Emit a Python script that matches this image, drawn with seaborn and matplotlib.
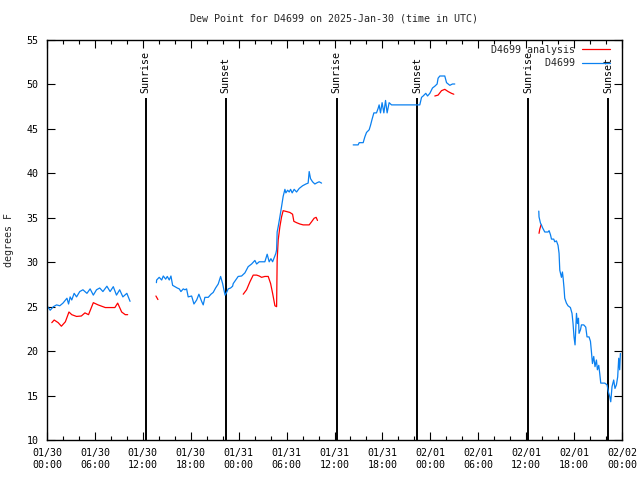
import pandas as pd
import matplotlib
matplotlib.use("Agg")
import matplotlib.pyplot as plt
import matplotlib.dates as mdates
import seaborn as sns

start = pd.Timestamp("2025-01-30 00:00")

# observed dew point D4699 (hours since 01/30 00:00 UTC, degrees F), one list per gap-free stretch
obs_a_hr = [0.0, 0.4, 0.8, 1.2, 1.6, 2.0, 2.5, 2.7, 2.9, 3.1, 3.4, 3.7, 4.1, 4.5, 5.0, 5.4, 5.8, 6.2,
            6.6, 7.0, 7.5, 7.9, 8.3, 8.7, 9.1, 9.5, 10.0, 10.4]
obs_a_val = [25.1, 24.6, 25.0, 25.2, 25.1, 25.4, 25.95, 25.3, 26.1, 25.75, 26.5, 26.1, 26.7, 26.9, 26.5,
             27.0, 26.3, 26.9, 27.1, 26.7, 27.3, 26.7, 27.25, 26.3, 26.9, 26.1, 26.5, 25.6]

obs_b_hr = [13.70, 13.73, 14.05, 14.36, 14.56, 14.86, 15.06, 15.31, 15.52, 15.73, 16.02, 16.31, 16.56,
            16.77, 17.06, 17.27, 17.48, 17.68, 18.11, 18.40, 18.74, 19.02, 19.36, 19.56, 19.77, 20.19,
            20.53, 20.81, 21.11, 21.44, 21.74, 21.99, 22.15, 22.30, 22.49, 22.69, 22.99, 23.24, 23.32,
            23.94, 24.37, 24.78, 25.19, 25.62, 26.03, 26.25, 26.57, 27.28, 27.57, 27.82, 28.04, 28.25,
            28.66, 28.75, 28.82, 28.95, 29.16, 29.37, 29.57, 29.79, 29.91, 30.13, 30.33, 30.50, 30.70,
            30.95, 31.25, 31.58, 32.00, 32.42, 32.70, 32.83, 33.00, 33.25, 33.54, 33.83, 34.08, 34.38]
obs_b_val = [27.7, 28.0, 28.3, 28.0, 28.45, 28.1, 28.4, 28.0, 28.45, 27.4, 27.25, 27.1, 27.0,
             26.7, 27.0, 26.9, 27.0, 26.1, 26.2, 25.3, 25.75, 26.4, 25.6, 25.2, 26.05, 26.05,
             26.4, 26.6, 27.1, 27.55, 28.4, 27.6, 26.9, 26.3, 26.6, 27.0, 27.1, 27.3, 27.6,
             28.4, 28.45, 28.8, 29.5, 29.8, 30.2, 29.8, 30.05, 30.05, 30.9, 30.05, 30.4, 30.05,
             31.0, 31.4, 33.4, 34.0, 35.1, 36.25, 37.4, 38.2, 37.8, 38.1, 37.9, 38.2, 37.8,
             38.2, 37.9, 38.3, 38.6, 38.8, 38.9, 40.2, 39.4, 39.05, 38.8, 38.95, 39.05, 38.9]

obs_c_hr = [38.34, 38.96, 39.09, 39.59, 39.80, 40.01, 40.34, 40.51, 40.71, 40.93, 41.26, 41.46, 41.59,
            41.76, 41.96, 42.18, 42.39, 42.59, 42.84, 43.14, 46.68, 46.90, 47.10, 47.43, 47.65, 47.94,
            48.27, 48.56, 48.85, 48.97, 49.19, 49.81, 50.03, 50.44, 50.77, 51.06]
obs_c_val = [43.2, 43.2, 43.45, 43.45, 44.1, 44.6, 44.9, 45.4, 46.1, 46.8, 46.8, 47.3, 47.7,
             46.8, 47.95, 46.8, 48.2, 46.8, 47.95, 47.7, 47.7, 48.55, 48.7, 49.0, 48.7, 49.0,
             49.6, 49.8, 50.05, 50.7, 50.95, 50.95, 50.2, 49.9, 50.05, 50.05]

obs_d_hr = [61.58, 61.61, 61.79, 61.91, 62.04, 62.33, 62.74, 62.87, 63.04, 63.17, 63.45, 63.58, 63.79,
            63.99, 64.12, 64.21, 64.42, 64.54, 64.62, 64.74, 64.83, 65.04, 65.24, 65.54, 65.74, 65.87,
            65.99, 66.12, 66.30, 66.42, 66.55, 66.62, 66.80, 66.92, 67.21, 67.46, 67.62, 67.87, 68.05,
            68.17, 68.30, 68.46, 68.62, 68.80, 68.92, 69.09, 69.21, 69.34, 69.84, 70.13, 70.30, 70.46,
            70.59, 70.75, 70.96, 71.12, 71.30, 71.46, 71.59, 71.71, 71.80]
obs_d_val = [35.75, 35.1, 34.4, 34.2, 33.9, 33.4, 33.4, 33.55, 33.1, 32.6, 32.6, 32.3, 32.4,
             31.9, 31.0, 29.1, 28.3, 28.9, 28.3, 27.1, 25.95, 25.4, 25.1, 24.9, 24.25, 23.1,
             21.6, 20.7, 24.25, 23.1, 23.7, 22.0, 22.4, 22.95, 22.95, 22.7, 21.6, 21.6, 21.1,
             19.95, 18.6, 19.4, 18.25, 19.0, 17.9, 18.4, 17.5, 16.4, 16.4, 16.2, 15.4, 14.9,
             14.3, 16.0, 16.75, 15.8, 16.2, 17.1, 19.2, 17.9, 19.75]

# analysis dew point
ana_a_hr = [0.6, 0.9, 1.4, 1.8, 2.3, 2.75, 3.1, 3.7, 4.3, 4.75, 5.2, 5.8, 6.4, 7.3, 8.5, 8.85, 9.35, 9.8, 10.1]
ana_a_val = [23.2, 23.5, 23.2, 22.8, 23.3, 24.4, 24.1, 23.9, 23.95, 24.3, 24.1, 25.45, 25.2, 24.9, 24.9,
             25.4, 24.4, 24.1, 24.1]

ana_b_hr = [13.64, 13.89]
ana_b_val = [26.2, 25.8]

ana_c_hr = [24.57, 24.99, 25.41, 25.82, 26.25, 26.57, 26.87, 27.28, 27.70, 28.00, 28.25, 28.54, 28.75,
            28.82, 28.95, 29.16, 29.37, 29.57, 30.00, 30.41, 30.75, 30.91, 31.25, 31.66, 32.08, 32.83,
            33.13, 33.45, 33.70, 33.87]
ana_c_val = [26.4, 26.9, 27.8, 28.55, 28.55, 28.45, 28.3, 28.4, 28.4, 27.6, 26.5, 25.1, 25.0,
             30.25, 32.5, 34.0, 35.1, 35.8, 35.7, 35.6, 35.4, 34.6, 34.45, 34.3, 34.2, 34.2,
             34.55, 34.95, 35.05, 34.7]

ana_d_hr = [48.56, 48.97, 49.40, 49.81, 50.23, 50.65, 50.94]
ana_d_val = [48.7, 48.8, 49.3, 49.45, 49.2, 49.0, 48.9]

ana_e_hr = [61.61, 61.70, 61.86]
ana_e_val = [33.25, 33.7, 34.2]

sun_hr = [12.35, 22.37, 36.26, 46.35, 60.24, 70.25]
sun_label = ["Sunrise", "Sunset", "Sunrise", "Sunset", "Sunrise", "Sunset"]

segments = [
    ("D4699 analysis", ana_a_hr, ana_a_val),
    ("D4699 analysis", ana_b_hr, ana_b_val),
    ("D4699 analysis", ana_c_hr, ana_c_val),
    ("D4699 analysis", ana_d_hr, ana_d_val),
    ("D4699 analysis", ana_e_hr, ana_e_val),
    ("D4699", obs_a_hr, obs_a_val),
    ("D4699", obs_b_hr, obs_b_val),
    ("D4699", obs_c_hr, obs_c_val),
    ("D4699", obs_d_hr, obs_d_val),
]

rows = []
for seg_id, (name, hrs, vals) in enumerate(segments):
    for h, v in zip(hrs, vals):
        rows.append({"time": start + pd.Timedelta(hours=h), "dewpt": v, "series": name, "seg": seg_id})
df = pd.DataFrame(rows)

sns.set_theme(style="ticks")
plt.rcParams["font.family"] = ["DejaVu Sans Mono"]
plt.rcParams["font.size"] = 7.2

fig = plt.figure(figsize=(6.4, 4.8), dpi=100)
ax = fig.add_axes([47 / 640, 40 / 480, 575 / 640, 400 / 480])

sns.lineplot(data=df, x="time", y="dewpt", hue="series", units="seg", estimator=None,
             hue_order=["D4699 analysis", "D4699"],
             palette={"D4699 analysis": "#ff0000", "D4699": "#0a80f0"},
             linewidth=0.9, ax=ax)

for h, lab in zip(sun_hr, sun_label):
    t = start + pd.Timedelta(hours=h)
    ax.vlines(t, 10, 48.5, color="black", linewidth=1.4, zorder=1)
    ax.text(t, 49.0, lab, rotation=90, ha="center", va="bottom", fontsize=7.2, color="black")

ax.set_xlim(start, start + pd.Timedelta(hours=72))
ax.set_ylim(10, 55)
ax.set_yticks(range(10, 56, 5))
ax.xaxis.set_major_locator(mdates.HourLocator(byhour=[0, 6, 12, 18]))
ax.xaxis.set_minor_locator(mdates.HourLocator(byhour=range(0, 24, 2)))
ax.xaxis.set_major_formatter(mdates.DateFormatter("%m/%d\n%H:%M"))
ax.tick_params(which="both", direction="in", top=True, right=True, colors="black", labelsize=7.2)
ax.tick_params(which="major", length=6, width=0.8, pad=6)
ax.tick_params(which="minor", length=3, width=0.8)
for s in ax.spines.values():
    s.set_color("black")
    s.set_linewidth(1.0)

ax.set_xlabel("")
ax.set_ylabel("degrees F", fontsize=7.2, labelpad=9)
ax.set_title("Dew Point for D4699 on 2025-Jan-30 (time in UTC)", fontsize=7.2, pad=13)

old = ax.get_legend()
handles = old.legend_handles
texts = [t.get_text() for t in old.get_texts()]
width = max(len(t) for t in texts)
labels = [t.rjust(width) for t in texts]
old.remove()
ax.legend(handles, labels, loc="upper right", bbox_to_anchor=(0.991, 1.006), frameon=False,
          markerfirst=False, handlelength=2.8, handletextpad=0.7, labelspacing=0.35,
          borderaxespad=0.3, fontsize=7.2)

fig.savefig("out.png", dpi=100)
